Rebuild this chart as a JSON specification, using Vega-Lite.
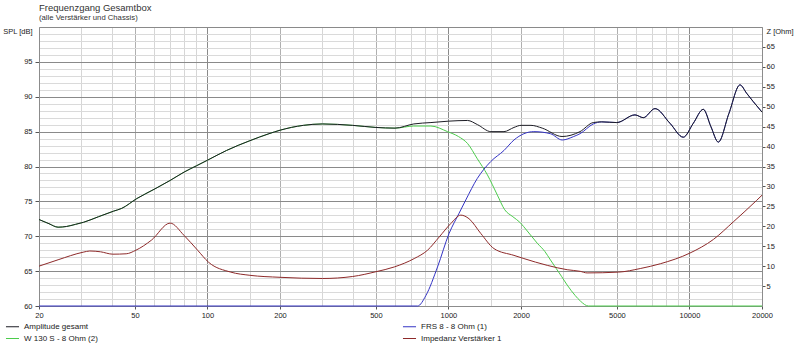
{
  "$schema": "https://vega.github.io/schema/vega-lite/v6.json",
  "width": 723,
  "height": 279,
  "autosize": {"type": "none"},
  "padding": {"left": 39, "top": 27, "right": 38, "bottom": 47},
  "background": "white",
  "config": {
    "font": "Liberation Sans",
    "view": {"stroke": "#8c8c8c", "strokeWidth": 1},
    "axis": {"labelFont": "Liberation Sans", "labelColor": "#222", "domainColor": "#8c8c8c", "tickColor": "#555", "labelFontSize": 7.5, "title": null}
  },
  "title": {
    "text": "Frequenzgang Gesamtbox",
    "subtitle": "(alle Verstärker und Chassis)",
    "anchor": "start", "frame": "group",
    "font": "Liberation Sans", "fontSize": 9.5, "fontWeight": "normal", "color": "#333",
    "subtitleFont": "Liberation Sans", "subtitleFontSize": 7.7, "subtitleColor": "#333",
    "subtitlePadding": 2, "offset": 5
  },
  "datasets": {
    "amp": [
      {"s":"Amplitude gesamt","f":20,"v":72.4},{"s":"Amplitude gesamt","f":22,"v":71.8},{"s":"Amplitude gesamt","f":24,"v":71.3},{"s":"Amplitude gesamt","f":26,"v":71.4},{"s":"Amplitude gesamt","f":28.3,"v":71.7},{"s":"Amplitude gesamt","f":30.6,"v":72.0},{"s":"Amplitude gesamt","f":35.3,"v":72.8},{"s":"Amplitude gesamt","f":40.8,"v":73.6},{"s":"Amplitude gesamt","f":44.1,"v":74.0},{"s":"Amplitude gesamt","f":50.9,"v":75.4},{"s":"Amplitude gesamt","f":60.6,"v":76.8},{"s":"Amplitude gesamt","f":70,"v":78.0},{"s":"Amplitude gesamt","f":80,"v":79.2},{"s":"Amplitude gesamt","f":90,"v":80.1},{"s":"Amplitude gesamt","f":100,"v":80.9},{"s":"Amplitude gesamt","f":120,"v":82.3},{"s":"Amplitude gesamt","f":150,"v":83.7},{"s":"Amplitude gesamt","f":180,"v":84.7},{"s":"Amplitude gesamt","f":200,"v":85.2},{"s":"Amplitude gesamt","f":250,"v":85.9},{"s":"Amplitude gesamt","f":300,"v":86.1},{"s":"Amplitude gesamt","f":400,"v":85.9},{"s":"Amplitude gesamt","f":500,"v":85.6},{"s":"Amplitude gesamt","f":600,"v":85.5},{"s":"Amplitude gesamt","f":718,"v":86.1},{"s":"Amplitude gesamt","f":846,"v":86.3},{"s":"Amplitude gesamt","f":1000,"v":86.5},{"s":"Amplitude gesamt","f":1200,"v":86.6},{"s":"Amplitude gesamt","f":1320,"v":86.0},{"s":"Amplitude gesamt","f":1500,"v":85.0},{"s":"Amplitude gesamt","f":1700,"v":85.0},{"s":"Amplitude gesamt","f":1870,"v":85.6},{"s":"Amplitude gesamt","f":2000,"v":85.9},{"s":"Amplitude gesamt","f":2200,"v":85.9},{"s":"Amplitude gesamt","f":2450,"v":85.5},{"s":"Amplitude gesamt","f":2960,"v":84.3},{"s":"Amplitude gesamt","f":3514,"v":85.0},{"s":"Amplitude gesamt","f":3990,"v":86.3},{"s":"Amplitude gesamt","f":4326,"v":86.4},{"s":"Amplitude gesamt","f":4990,"v":86.3},{"s":"Amplitude gesamt","f":5944,"v":87.4},{"s":"Amplitude gesamt","f":6434,"v":87.0},{"s":"Amplitude gesamt","f":7196,"v":88.3},{"s":"Amplitude gesamt","f":8300,"v":86.2},{"s":"Amplitude gesamt","f":9428,"v":84.2},{"s":"Amplitude gesamt","f":10376,"v":86.2},{"s":"Amplitude gesamt","f":11412,"v":88.2},{"s":"Amplitude gesamt","f":12280,"v":85.7},{"s":"Amplitude gesamt","f":13176,"v":83.5},{"s":"Amplitude gesamt","f":14580,"v":87.6},{"s":"Amplitude gesamt","f":16210,"v":91.7},{"s":"Amplitude gesamt","f":17270,"v":90.5},{"s":"Amplitude gesamt","f":18400,"v":89.3},{"s":"Amplitude gesamt","f":20000,"v":87.8}
    ],
    "w130": [
      {"s":"W 130 S - 8 Ohm (2)","f":20,"v":72.4},{"s":"W 130 S - 8 Ohm (2)","f":22,"v":71.8},{"s":"W 130 S - 8 Ohm (2)","f":24,"v":71.3},{"s":"W 130 S - 8 Ohm (2)","f":26,"v":71.4},{"s":"W 130 S - 8 Ohm (2)","f":28.3,"v":71.7},{"s":"W 130 S - 8 Ohm (2)","f":30.6,"v":72.0},{"s":"W 130 S - 8 Ohm (2)","f":35.3,"v":72.8},{"s":"W 130 S - 8 Ohm (2)","f":40.8,"v":73.6},{"s":"W 130 S - 8 Ohm (2)","f":44.1,"v":74.0},{"s":"W 130 S - 8 Ohm (2)","f":50.9,"v":75.4},{"s":"W 130 S - 8 Ohm (2)","f":60.6,"v":76.8},{"s":"W 130 S - 8 Ohm (2)","f":70,"v":78.0},{"s":"W 130 S - 8 Ohm (2)","f":80,"v":79.2},{"s":"W 130 S - 8 Ohm (2)","f":90,"v":80.1},{"s":"W 130 S - 8 Ohm (2)","f":100,"v":80.9},{"s":"W 130 S - 8 Ohm (2)","f":120,"v":82.3},{"s":"W 130 S - 8 Ohm (2)","f":150,"v":83.7},{"s":"W 130 S - 8 Ohm (2)","f":180,"v":84.7},{"s":"W 130 S - 8 Ohm (2)","f":200,"v":85.2},{"s":"W 130 S - 8 Ohm (2)","f":250,"v":85.9},{"s":"W 130 S - 8 Ohm (2)","f":300,"v":86.1},{"s":"W 130 S - 8 Ohm (2)","f":400,"v":85.9},{"s":"W 130 S - 8 Ohm (2)","f":500,"v":85.6},{"s":"W 130 S - 8 Ohm (2)","f":600,"v":85.5},{"s":"W 130 S - 8 Ohm (2)","f":718,"v":85.8},{"s":"W 130 S - 8 Ohm (2)","f":846,"v":85.8},{"s":"W 130 S - 8 Ohm (2)","f":991,"v":85.0},{"s":"W 130 S - 8 Ohm (2)","f":1100,"v":84.3},{"s":"W 130 S - 8 Ohm (2)","f":1200,"v":83.3},{"s":"W 130 S - 8 Ohm (2)","f":1318,"v":81.1},{"s":"W 130 S - 8 Ohm (2)","f":1451,"v":78.8},{"s":"W 130 S - 8 Ohm (2)","f":1596,"v":75.9},{"s":"W 130 S - 8 Ohm (2)","f":1712,"v":73.8},{"s":"W 130 S - 8 Ohm (2)","f":1850,"v":72.8},{"s":"W 130 S - 8 Ohm (2)","f":1978,"v":72.0},{"s":"W 130 S - 8 Ohm (2)","f":2050,"v":71.4},{"s":"W 130 S - 8 Ohm (2)","f":2336,"v":69.0},{"s":"W 130 S - 8 Ohm (2)","f":2514,"v":67.8},{"s":"W 130 S - 8 Ohm (2)","f":2650,"v":66.6},{"s":"W 130 S - 8 Ohm (2)","f":2952,"v":64.2},{"s":"W 130 S - 8 Ohm (2)","f":3110,"v":63.0},{"s":"W 130 S - 8 Ohm (2)","f":3357,"v":61.5},{"s":"W 130 S - 8 Ohm (2)","f":3530,"v":60.7},{"s":"W 130 S - 8 Ohm (2)","f":3808,"v":60.0},{"s":"W 130 S - 8 Ohm (2)","f":20000,"v":60.0}
    ],
    "frs": [
      {"s":"FRS 8 - 8 Ohm (1)","f":20,"v":60.0},{"s":"FRS 8 - 8 Ohm (1)","f":745,"v":60.0},{"s":"FRS 8 - 8 Ohm (1)","f":806,"v":61.5},{"s":"FRS 8 - 8 Ohm (1)","f":901,"v":65.6},{"s":"FRS 8 - 8 Ohm (1)","f":1006,"v":70.4},{"s":"FRS 8 - 8 Ohm (1)","f":1107,"v":73.3},{"s":"FRS 8 - 8 Ohm (1)","f":1180,"v":75.2},{"s":"FRS 8 - 8 Ohm (1)","f":1318,"v":78.3},{"s":"FRS 8 - 8 Ohm (1)","f":1497,"v":80.7},{"s":"FRS 8 - 8 Ohm (1)","f":1700,"v":82.3},{"s":"FRS 8 - 8 Ohm (1)","f":1870,"v":83.8},{"s":"FRS 8 - 8 Ohm (1)","f":2056,"v":84.7},{"s":"FRS 8 - 8 Ohm (1)","f":2261,"v":85.0},{"s":"FRS 8 - 8 Ohm (1)","f":2650,"v":84.7},{"s":"FRS 8 - 8 Ohm (1)","f":2964,"v":83.8},{"s":"FRS 8 - 8 Ohm (1)","f":3310,"v":84.3},{"s":"FRS 8 - 8 Ohm (1)","f":3514,"v":84.7},{"s":"FRS 8 - 8 Ohm (1)","f":3990,"v":86.1},{"s":"FRS 8 - 8 Ohm (1)","f":4326,"v":86.4},{"s":"FRS 8 - 8 Ohm (1)","f":4990,"v":86.3},{"s":"FRS 8 - 8 Ohm (1)","f":5944,"v":87.4},{"s":"FRS 8 - 8 Ohm (1)","f":6434,"v":87.0},{"s":"FRS 8 - 8 Ohm (1)","f":7196,"v":88.3},{"s":"FRS 8 - 8 Ohm (1)","f":8300,"v":86.2},{"s":"FRS 8 - 8 Ohm (1)","f":9428,"v":84.2},{"s":"FRS 8 - 8 Ohm (1)","f":10376,"v":86.2},{"s":"FRS 8 - 8 Ohm (1)","f":11412,"v":88.2},{"s":"FRS 8 - 8 Ohm (1)","f":12280,"v":85.7},{"s":"FRS 8 - 8 Ohm (1)","f":13176,"v":83.5},{"s":"FRS 8 - 8 Ohm (1)","f":14580,"v":87.6},{"s":"FRS 8 - 8 Ohm (1)","f":16210,"v":91.7},{"s":"FRS 8 - 8 Ohm (1)","f":17270,"v":90.5},{"s":"FRS 8 - 8 Ohm (1)","f":18400,"v":89.3},{"s":"FRS 8 - 8 Ohm (1)","f":20000,"v":87.8}
    ],
    "imp": [
      {"s":"Impedanz Verstärker 1","f":20,"v":10.0},{"s":"Impedanz Verstärker 1","f":24,"v":11.6},{"s":"Impedanz Verstärker 1","f":30.5,"v":13.5},{"s":"Impedanz Verstärker 1","f":32.5,"v":13.8},{"s":"Impedanz Verstärker 1","f":36,"v":13.6},{"s":"Impedanz Verstärker 1","f":40.5,"v":13.0},{"s":"Impedanz Verstärker 1","f":46,"v":13.1},{"s":"Impedanz Verstärker 1","f":50.5,"v":14.0},{"s":"Impedanz Verstärker 1","f":58.5,"v":16.5},{"s":"Impedanz Verstärker 1","f":70,"v":20.8},{"s":"Impedanz Verstärker 1","f":80,"v":17.7},{"s":"Impedanz Verstärker 1","f":91,"v":14.0},{"s":"Impedanz Verstärker 1","f":101,"v":11.0},{"s":"Impedanz Verstärker 1","f":125,"v":8.5},{"s":"Impedanz Verstärker 1","f":150,"v":7.7},{"s":"Impedanz Verstärker 1","f":200,"v":7.2},{"s":"Impedanz Verstärker 1","f":300,"v":6.9},{"s":"Impedanz Verstärker 1","f":400,"v":7.4},{"s":"Impedanz Verstärker 1","f":500,"v":8.6},{"s":"Impedanz Verstärker 1","f":596,"v":9.8},{"s":"Impedanz Verstärker 1","f":721,"v":11.9},{"s":"Impedanz Verstärker 1","f":819,"v":14.0},{"s":"Impedanz Verstärker 1","f":915,"v":17.3},{"s":"Impedanz Verstärker 1","f":1023,"v":20.7},{"s":"Impedanz Verstärker 1","f":1125,"v":22.8},{"s":"Impedanz Verstärker 1","f":1217,"v":21.9},{"s":"Impedanz Verstärker 1","f":1362,"v":18.2},{"s":"Impedanz Verstärker 1","f":1545,"v":14.4},{"s":"Impedanz Verstärker 1","f":1870,"v":12.7},{"s":"Impedanz Verstärker 1","f":2056,"v":11.9},{"s":"Impedanz Verstärker 1","f":2570,"v":10.2},{"s":"Impedanz Verstärker 1","f":3110,"v":9.1},{"s":"Impedanz Verstärker 1","f":3520,"v":8.7},{"s":"Impedanz Verstärker 1","f":3760,"v":8.3},{"s":"Impedanz Verstärker 1","f":5080,"v":8.5},{"s":"Impedanz Verstärker 1","f":6250,"v":9.4},{"s":"Impedanz Verstärker 1","f":7570,"v":10.6},{"s":"Impedanz Verstärker 1","f":10060,"v":13.3},{"s":"Impedanz Verstärker 1","f":12570,"v":16.7},{"s":"Impedanz Verstärker 1","f":15200,"v":21.1},{"s":"Impedanz Verstärker 1","f":19000,"v":26.5},{"s":"Impedanz Verstärker 1","f":20000,"v":27.8}
    ]
  },
  "encoding": {
    "x": {
      "field": "f", "type": "quantitative",
      "scale": {"type": "log", "domain": [20, 20000], "nice": false},
      "axis": {
        "values": [20,30,40,50,60,70,80,90,100,150,200,300,400,500,600,700,800,900,1000,1500,2000,3000,4000,5000,6000,7000,8000,9000,10000,15000,20000],
        "labelExpr": "indexof([20,50,100,200,500,1000,2000,5000,10000,20000], datum.value) >= 0 ? format(datum.value, 'd') : ''",
        "grid": true,
        "gridColor": {"condition": [{"test": "indexof([100,1000,10000], datum.value) >= 0", "value": "#8a8a8a"}, {"test": "indexof([50,200,500,2000,5000], datum.value) >= 0", "value": "#b0b0b0"}], "value": "#d6d6d6"},
        "tickSize": 3,
        "tickOpacity": {"condition": {"test": "indexof([20,50,100,200,500,1000,2000,5000,10000,20000], datum.value) >= 0", "value": 1}, "value": 0},
        "labelPadding": 2, "labelFlush": false, "labelOverlap": false, "labelBound": false, "title": null
      }
    },
    "color": {
      "field": "s", "type": "nominal",
      "scale": {"domain": ["Amplitude gesamt", "W 130 S - 8 Ohm (2)", "FRS 8 - 8 Ohm (1)", "Impedanz Verstärker 1"], "range": ["#1c1c24", "#4ccc4c", "#3434c4", "#8e2a2a"]},
      "legend": {"orient": "none", "legendX": -34, "legendY": 292, "columns": 2, "columnPadding": 302, "rowPadding": -1, "symbolType": "stroke", "symbolSize": 170, "symbolStrokeWidth": 1, "labelFontSize": 8, "labelFont": "Liberation Sans", "labelColor": "#222", "labelOffset": 4, "title": null, "padding": 0, "labelLimit": 300}
    }
  },
  "layer": [
    {
      "encoding": {
        "y": {
          "field": "v", "type": "quantitative",
          "scale": {"domain": [60, 100], "nice": false, "zero": false},
          "axis": {
            "orient": "left",
            "values": [60,61,62,63,64,65,66,67,68,69,70,71,72,73,74,75,76,77,78,79,80,81,82,83,84,85,86,87,88,89,90,91,92,93,94,95,96,97,98,99,100],
            "labelExpr": "datum.value == 100 ? 'SPL [dB]' : (datum.value % 5 == 0 ? format(datum.value, 'd') : '')",
            "labelBaseline": {"condition": {"test": "datum.value == 100", "value": "top"}, "value": "middle"},
            "grid": true,
            "gridColor": {"condition": {"test": "datum.value % 5 == 0", "value": "#8a8a8a"}, "value": "#dadada"},
            "tickSize": 4,
            "tickOpacity": {"condition": {"test": "datum.value % 5 == 0 && datum.value < 100", "value": 1}, "value": 0},
            "labelPadding": 3, "labelFlush": false, "labelOverlap": false, "labelBound": false, "title": null
          }
        }
      },
      "layer": [
        {
          "data": {"name": "w130"},
          "mark": {"type": "line", "interpolate": "monotone", "strokeWidth": 1}
        },
        {
          "data": {"name": "frs"},
          "mark": {"type": "line", "interpolate": "monotone", "strokeWidth": 1}
        },
        {
          "data": {"name": "amp"},
          "mark": {"type": "line", "interpolate": "monotone", "strokeWidth": 1}
        },
        {
          "data": {"values": [{"d": "14.02.2017"}]},
          "mark": {"type": "text", "align": "right", "baseline": "middle", "dx": -5, "dy": -11, "fontSize": 7.5, "color": "#333", "font": "Liberation Sans"},
          "encoding": {"x": {"datum": 20000}, "y": {"datum": 100}, "text": {"field": "d"}, "color": {"value": "#333"}}
        }
      ]
    },
    {
      "data": {"name": "imp"},
      "mark": {"type": "line", "interpolate": "monotone", "strokeWidth": 1},
      "encoding": {
        "y": {
          "field": "v", "type": "quantitative",
          "scale": {"domain": [0, 70], "nice": false},
          "axis": {
            "orient": "right",
            "values": [0,5,10,15,20,25,30,35,40,45,50,55,60,65,70],
            "labelExpr": "datum.value == 70 ? 'Z [Ohm]' : (datum.value == 0 ? '' : format(datum.value, 'd'))",
            "labelBaseline": {"condition": {"test": "datum.value == 70", "value": "top"}, "value": "middle"},
            "grid": false, "tickSize": 3, "labelPadding": 1,
            "tickOpacity": {"condition": {"test": "datum.value > 0 && datum.value < 70", "value": 1}, "value": 0},
            "labelFlush": false, "labelOverlap": false, "labelBound": false, "title": null
          }
        }
      }
    }
  ],
  "resolve": {"scale": {"y": "independent"}}
}
